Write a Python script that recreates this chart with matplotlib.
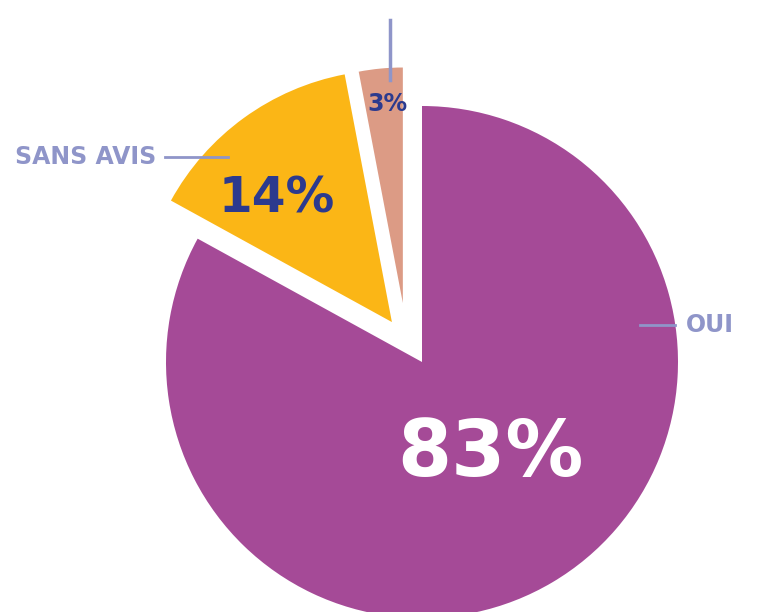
import matplotlib.pyplot as plt
import numpy as np

# data
labels = ["OUI", "SANS AVIS", "NON"]
values = [83, 14, 3]
colors = ["#a54a97", "#fbb616", "#dc9b85"]
# offset of each wedge's apex: distance in px and direction in degrees
offset_dist = [0, 50, 62]
offset_dir = [0, 127, 108]
radius_scale = [1.0, 0.985, 0.92]
pct_colors = ["white", "#2c3a8e", "#2c3a8e"]
pct_sizes = [56, 35, 17]
pct_dist = [0.45, 0.66, 0.78]
pct_shift = [6, 7, -1]   # degrees from wedge middle

LINE_COL = "#8f95c9"
FONT = ["DejaVu Sans"]

fig = plt.figure(figsize=(7.63, 6.12), dpi=100)
ax = fig.add_axes([0, 0, 1, 1])

cx, cy, R = 422, 250, 256
wedges, _ = ax.pie(values, colors=colors, startangle=90,
                   counterclock=False, center=(cx, cy), radius=R,
                   wedgeprops=dict(linewidth=0), frame=True)
for w, d, a, k in zip(wedges, offset_dist, offset_dir, radius_scale):
    t = np.deg2rad(a)
    w.set_center((cx + d * np.cos(t), cy + d * np.sin(t)))
    w.set_radius(R * k)

ax.set_xlim(0, 763)
ax.set_ylim(0, 612)
ax.set_aspect("equal")
ax.axis("off")

# percentage labels inside the wedges
for w, v, c, s, d, sh in zip(wedges, values, pct_colors, pct_sizes, pct_dist, pct_shift):
    mid = np.deg2rad((w.theta1 + w.theta2) / 2 + sh)
    x0, y0 = w.center
    x = x0 + d * R * np.cos(mid)
    y = y0 + d * R * np.sin(mid)
    ax.text(x, y, f"{v}%", color=c, fontsize=s, fontweight="heavy",
            family=FONT, ha="center", va="center")

# leader lines and category names
ax.plot([640, 675], [287, 287], color=LINE_COL, lw=2)
ax.text(686, 287, labels[0], color=LINE_COL, fontsize=17, fontweight="bold",
        family=FONT, ha="left", va="center")
ax.plot([165, 228], [455, 455], color=LINE_COL, lw=2)
ax.text(156, 455, labels[1], color=LINE_COL, fontsize=17, fontweight="bold",
        family=FONT, ha="right", va="center")
ax.plot([390, 390], [532, 592], color=LINE_COL, lw=2.5)

fig.savefig("out.png", dpi=100)
